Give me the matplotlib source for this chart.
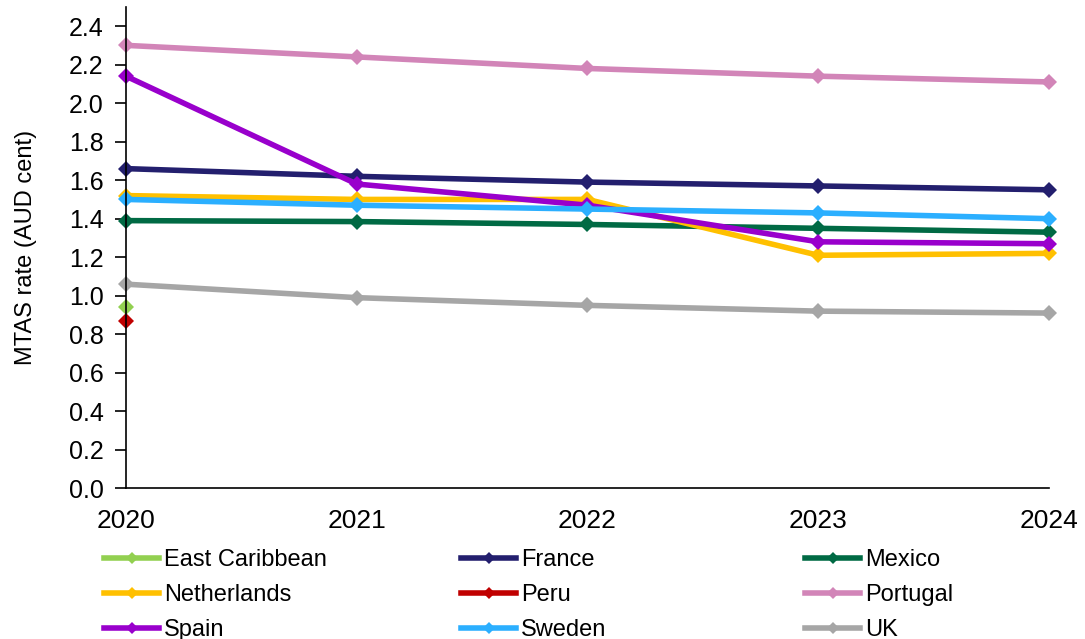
import matplotlib.pyplot as plt
from matplotlib.lines import Line2D

plt.rcParams['font.family'] = ['Liberation Sans', 'DejaVu Sans']

years = [2020, 2021, 2022, 2023, 2024]

east_caribbean = [0.94]
france = [1.66, 1.62, 1.59, 1.57, 1.55]
mexico = [1.39, 1.385, 1.37, 1.35, 1.33]
netherlands = [1.52, 1.50, 1.50, 1.21, 1.22]
peru = [0.87]
portugal = [2.30, 2.24, 2.18, 2.14, 2.11]
spain = [2.14, 1.58, 1.47, 1.28, 1.27]
sweden = [1.50, 1.47, 1.45, 1.43, 1.40]
uk = [1.06, 0.99, 0.95, 0.92, 0.91]

countries = ['East Caribbean', 'France', 'Mexico', 'Netherlands', 'Peru',
             'Portugal', 'Spain', 'Sweden', 'UK']
values = [east_caribbean, france, mexico, netherlands, peru,
          portugal, spain, sweden, uk]
colors = ['#92D050', '#231F6E', '#006A44', '#FFC000', '#C00000',
          '#D285B8', '#9900CC', '#2BAFFF', '#A6A6A6']

fig = plt.figure(figsize=(10.85, 6.39), dpi=100)
ax = fig.add_axes([0.1161, 0.2358, 0.8507, 0.7535])

for name, vals, c in zip(countries, values, colors):
    ax.plot(years[:len(vals)], vals, color=c, lw=4, marker='D',
            markersize=8.5, markeredgewidth=0, clip_on=False,
            solid_joinstyle='miter')

ax.set_xlim(2020, 2024)
ax.set_ylim(0, 2.5)
ax.set_yticks([i / 10 for i in range(0, 25, 2)])
ax.set_yticklabels([f'{i / 10:.1f}' for i in range(0, 25, 2)], fontsize=18)
ax.set_xticks(years)
ax.set_xticklabels([str(y) for y in years], fontsize=19,
                   family=['Liberation Sans Narrow', 'Liberation Sans'])
ax.tick_params(axis='x', length=0, pad=15)
ax.tick_params(axis='y', length=8, width=1.2, pad=8)

for side in ['top', 'right']:
    ax.spines[side].set_visible(False)
for side in ['left', 'bottom']:
    ax.spines[side].set_linewidth(1.2)

ax.set_ylabel('MTAS rate (AUD cent)', fontsize=17)
ax.yaxis.set_label_coords(-0.0964, 0.5)

# legend: three columns laid out separately so they sit at fixed widths
handles = [Line2D([], [], color=c, lw=4, marker='D', markersize=6.5,
                  markeredgewidth=0) for c in colors]
col_x = [104 / 1085, 461 / 1085, 805 / 1085]
for k in range(3):
    idx = [k, k + 3, k + 6]
    fig.legend([handles[i] for i in idx], [countries[i] for i in idx],
               loc='upper left', bbox_to_anchor=(col_x[k], 1 - 549 / 639),
               frameon=False, fontsize=17, handlelength=2.35,
               handletextpad=0.2, labelspacing=0.55, borderpad=0,
               borderaxespad=0)

fig.savefig('out.png', dpi=100)
